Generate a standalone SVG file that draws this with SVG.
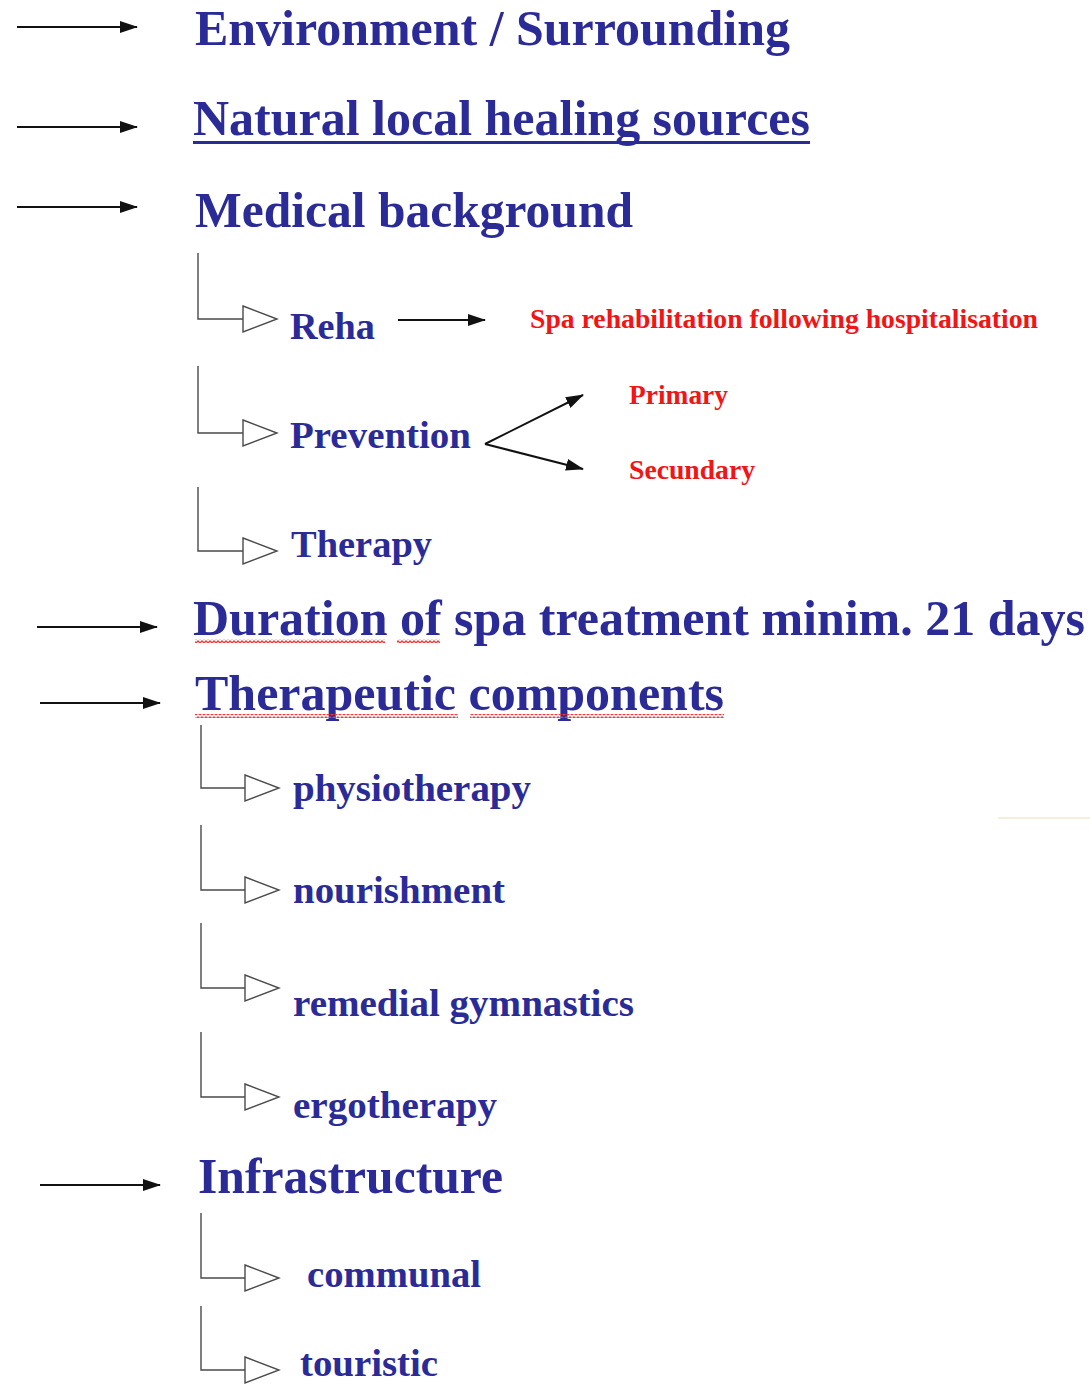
<svg xmlns="http://www.w3.org/2000/svg" width="1090" height="1386" viewBox="0 0 1090 1386">
<style>
.h{font-family:"Liberation Serif","Times New Roman",serif;font-weight:bold;font-size:50px;fill:#2b2b98}
.s{font-family:"Liberation Serif","Times New Roman",serif;font-weight:bold;font-size:38px;fill:#2b2b98}
.r{font-family:"Liberation Serif","Times New Roman",serif;font-weight:bold;font-size:27px;fill:#f21515}
.arr{stroke:#111;stroke-width:2;fill:none;marker-end:url(#ah)}
.br{stroke:#4a4a4a;stroke-width:1.4;fill:none}
.tri{stroke:#4a4a4a;stroke-width:1.4;fill:#fff}
</style>
<defs>
<marker id="ah" markerUnits="userSpaceOnUse" markerWidth="18" markerHeight="12" refX="17" refY="6" orient="auto"><path d="M0,0 L18,6 L0,12 Z" fill="#111"/></marker>
<pattern id="wavy" patternUnits="userSpaceOnUse" width="4" height="4"><path d="M0,3 L2,1 L4,3" stroke="#f03a3a" stroke-width="1.3" fill="none"/></pattern>
<polygon id="tr" class="tri" points="0,-13 34,0 0,13"/>
</defs>
<rect width="1090" height="1386" fill="#fff"/>
<line x1="998" y1="818" x2="1090" y2="818" stroke="#f4f0dc" stroke-width="2"/>

<g id="connectors">
<line class="arr" x1="17" y1="27" x2="137" y2="27"/>
<line class="arr" x1="17" y1="127" x2="137" y2="127"/>
<line class="arr" x1="17" y1="207" x2="137" y2="207"/>
<line class="arr" x1="398" y1="320" x2="485" y2="320"/>
<line class="arr" x1="485" y1="444" x2="583" y2="395"/>
<line class="arr" x1="485" y1="444" x2="583" y2="469"/>
<line class="arr" x1="37" y1="627" x2="157" y2="627"/>
<line class="arr" x1="40" y1="703" x2="160" y2="703"/>
<line class="arr" x1="40" y1="1185" x2="160" y2="1185"/>

<path class="br" d="M198,253 V319 H243"/><use href="#tr" x="243" y="319"/>
<path class="br" d="M198,366 V433 H243"/><use href="#tr" x="243" y="433"/>
<path class="br" d="M198,487 V551 H243"/><use href="#tr" x="243" y="551"/>
<path class="br" d="M201,725 V788 H245"/><use href="#tr" x="245" y="788"/>
<path class="br" d="M201,825 V890 H245"/><use href="#tr" x="245" y="890"/>
<path class="br" d="M201,923 V988 H245"/><use href="#tr" x="245" y="988"/>
<path class="br" d="M201,1032 V1097 H245"/><use href="#tr" x="245" y="1097"/>
<path class="br" d="M201,1213 V1278 H245"/><use href="#tr" x="245" y="1278"/>
<path class="br" d="M201,1306 V1370 H245"/><use href="#tr" x="245" y="1370"/>
</g>

<g id="environment"><text class="h" x="195" y="45" textLength="595" lengthAdjust="spacingAndGlyphs">Environment / Surrounding</text></g>
<g id="natural"><text class="h" x="193" y="135" textLength="617" lengthAdjust="spacingAndGlyphs">Natural local healing sources</text><rect x="193" y="141" width="617" height="3" fill="#2b2b98"/></g>
<g id="medical"><text class="h" x="195" y="227" textLength="438" lengthAdjust="spacingAndGlyphs">Medical background</text></g>
<g id="reha"><text class="s" x="290" y="339" textLength="85" lengthAdjust="spacingAndGlyphs">Reha</text></g>
<g id="spa-rehab"><text class="r" x="530" y="328" textLength="508" lengthAdjust="spacingAndGlyphs">Spa rehabilitation following hospitalisation</text></g>
<g id="prevention"><text class="s" x="290" y="448" textLength="181" lengthAdjust="spacingAndGlyphs">Prevention</text></g>
<g id="primary"><text class="r" x="629" y="404" textLength="99" lengthAdjust="spacingAndGlyphs">Primary</text></g>
<g id="secundary"><text class="r" x="629" y="479" textLength="126" lengthAdjust="spacingAndGlyphs">Secundary</text></g>
<g id="therapy"><text class="s" x="291" y="557" textLength="141" lengthAdjust="spacingAndGlyphs">Therapy</text></g>
<g id="duration"><text class="h" x="193" y="635" textLength="892" lengthAdjust="spacingAndGlyphs">Duration of spa treatment minim. 21 days</text>
<rect x="195" y="639" width="190" height="4" fill="url(#wavy)"/><rect x="397" y="639" width="43" height="4" fill="url(#wavy)"/></g>
<g id="therapeutic"><text class="h" x="195" y="710" textLength="529" lengthAdjust="spacingAndGlyphs">Therapeutic components</text>
<rect x="195" y="714" width="263" height="4" fill="url(#wavy)"/><rect x="470" y="714" width="254" height="4" fill="url(#wavy)"/></g>
<g id="physiotherapy"><text class="s" x="293" y="801" textLength="238" lengthAdjust="spacingAndGlyphs">physiotherapy</text></g>
<g id="nourishment"><text class="s" x="293" y="903" textLength="212" lengthAdjust="spacingAndGlyphs">nourishment</text></g>
<g id="remedial"><text class="s" x="293" y="1016" textLength="341" lengthAdjust="spacingAndGlyphs">remedial gymnastics</text></g>
<g id="ergotherapy"><text class="s" x="293" y="1118" textLength="204" lengthAdjust="spacingAndGlyphs">ergotherapy</text></g>
<g id="infrastructure"><text class="h" x="198" y="1193" textLength="305" lengthAdjust="spacingAndGlyphs">Infrastructure</text></g>
<g id="communal"><text class="s" x="307" y="1287" textLength="174" lengthAdjust="spacingAndGlyphs">communal</text></g>
<g id="touristic"><text class="s" x="300" y="1376" textLength="138" lengthAdjust="spacingAndGlyphs">touristic</text></g>
</svg>
